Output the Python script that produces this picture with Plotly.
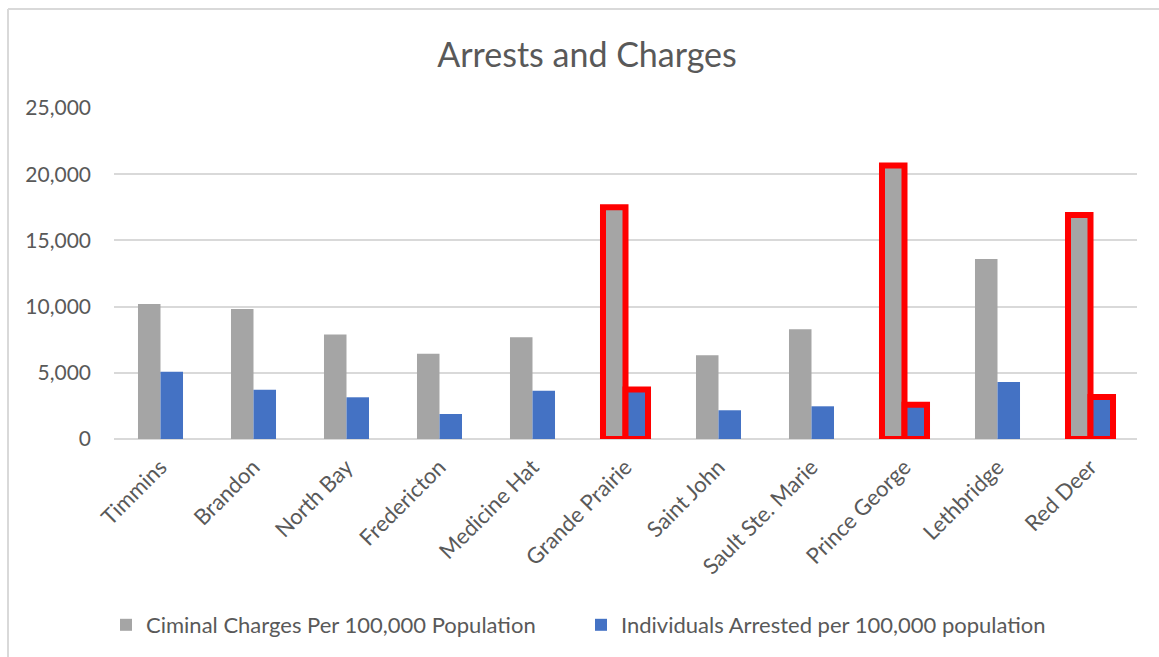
import plotly.graph_objects as go

cities = ["Timmins", "Brandon", "North Bay", "Fredericton", "Medicine Hat",
          "Grande Prairie", "Saint John", "Sault Ste. Marie", "Prince George",
          "Lethbridge", "Red Deer"]
charges = [10200, 9820, 7900, 6440, 7680, 17500, 6320, 8290, 20650, 13600, 16920]
arrested = [5080, 3720, 3150, 1890, 3650, 3740, 2170, 2470, 2580, 4300, 3170]
highlighted = ["Grande Prairie", "Prince George", "Red Deer"]

FONT = "Lato"
TXT = "#595959"
GRID = "#d9d9d9"

line_colors = ["#ff0000" if c in highlighted else "rgba(0,0,0,0)" for c in cities]
line_widths = [6 if c in highlighted else 0 for c in cities]

fig = go.Figure()
fig.add_trace(go.Bar(
    x=cities, y=charges, name="Ciminal Charges Per 100,000 Population",
    marker=dict(color="#a5a5a5", line=dict(color=line_colors, width=line_widths)),
))
fig.add_trace(go.Bar(
    x=cities, y=arrested, name="Individuals Arrested per 100,000 population",
    marker=dict(color="#4472c4", line=dict(color=line_colors, width=line_widths)),
))

L, R, T, B = 114, 22, 108, 218
W, H = 1159, 657
pw, ph = W - L - R, H - T - B

def px2x(px):
    return (px - L) / pw

def py2y(py):
    return (H - B - py) / ph

fig.update_layout(
    width=W, height=H,
    margin=dict(l=L, r=R, t=T, b=B),
    paper_bgcolor="white", plot_bgcolor="white",
    barmode="group", bargap=0.516, bargroupgap=0,
    title=dict(text="Arrests and Charges", x=587 / W, xanchor="center",
               y=1 - 55 / H, yanchor="middle",
               font=dict(family=FONT, size=34, color=TXT)),
    font=dict(family=FONT, color=TXT),
    legend=dict(orientation="h", x=106 / W, xanchor="left", xref="container",
                y=1 - 625 / H, yanchor="middle", yref="container",
                font=dict(family=FONT, size=22, color=TXT),
                itemwidth=30, traceorder="normal",
                entrywidth=430, entrywidthmode="pixels"),
    xaxis=dict(tickangle=-45, tickfont=dict(family=FONT, size=22, color=TXT),
               showgrid=False, showline=False, ticks="", ticklabelstandoff=10),
    yaxis=dict(range=[0, 25000], dtick=5000, tickformat=",",
               tickfont=dict(family=FONT, size=21, color=TXT),
               showgrid=True, gridcolor=GRID, gridwidth=2,
               zeroline=True, zerolinecolor=GRID, zerolinewidth=2,
               showline=False, ticks="", ticklabelstandoff=22),
    shapes=[
        dict(type="line", xref="paper", yref="paper",
             x0=px2x(8), x1=px2x(8), y0=py2y(9), y1=py2y(H + 5),
             line=dict(color=GRID, width=2)),
        dict(type="line", xref="paper", yref="paper",
             x0=px2x(8), x1=px2x(W + 5), y0=py2y(9), y1=py2y(9),
             line=dict(color=GRID, width=2)),
    ],
)

fig.write_html("out.html")
